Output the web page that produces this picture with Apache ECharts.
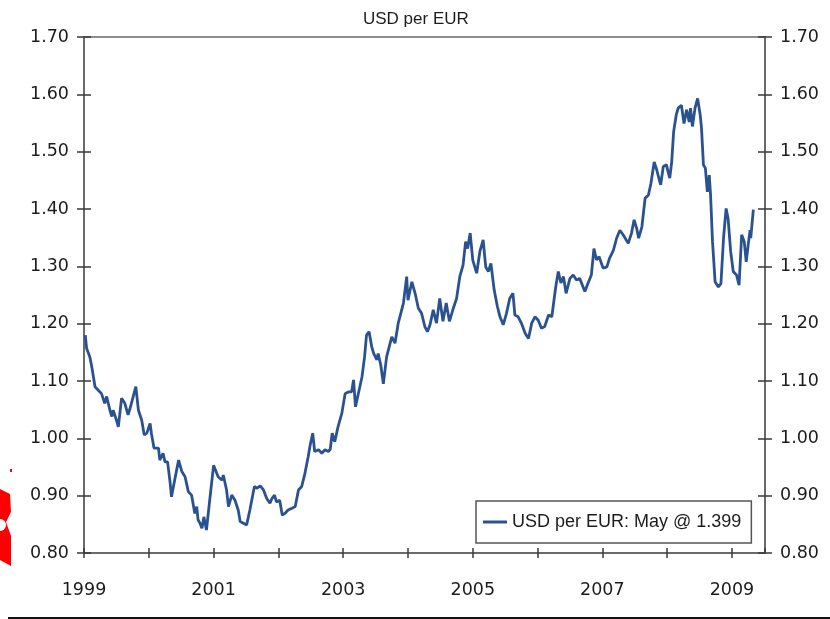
<!DOCTYPE html>
<html>
<head>
<meta charset="utf-8">
<script src="https://cdn.jsdelivr.net/npm/echarts@6/dist/echarts.min.js"></script>
<style>
html,body{margin:0;padding:0;background:#fff;}
#c{width:830px;height:619px;}
</style>
</head>
<body>
<div id="c"></div>
<script>
// ---- data (fractional year, USD per EUR) ----
const years = [
1999.02,1999.04,1999.09,1999.12,1999.17,1999.22,1999.27,1999.32,1999.35,1999.40,1999.43,1999.45,1999.50,1999.53,1999.58,1999.63,1999.68,1999.71,1999.76,1999.80,1999.84,1999.89,1999.93,1999.97,
2000.02,2000.04,2000.08,2000.15,2000.17,2000.22,2000.25,2000.29,2000.33,2000.35,2000.38,2000.43,2000.46,2000.51,2000.56,2000.61,2000.66,2000.71,2000.74,2000.76,2000.79,2000.82,2000.85,2000.89,2000.94,
2001.00,2001.02,2001.07,2001.13,2001.15,2001.20,2001.23,2001.28,2001.33,2001.38,2001.41,2001.46,2001.51,2001.56,2001.63,2001.67,2001.72,2001.77,2001.82,2001.87,2001.90,2001.94,2001.97,
2002.02,2002.06,2002.10,2002.15,2002.21,2002.26,2002.31,2002.36,2002.41,2002.46,2002.49,2002.53,2002.56,2002.62,2002.67,2002.72,2002.77,2002.80,2002.83,2002.87,2002.92,2002.98,
2003.03,2003.08,2003.13,2003.16,2003.19,2003.23,2003.29,2003.33,2003.36,2003.40,2003.44,2003.47,2003.52,2003.54,2003.58,2003.62,2003.67,2003.75,2003.80,2003.85,2003.93,2003.98,
2004.00,2004.06,2004.11,2004.16,2004.21,2004.26,2004.30,2004.34,2004.39,2004.44,2004.49,2004.54,2004.59,2004.64,2004.70,2004.75,2004.80,2004.85,2004.89,2004.92,2004.96,
2005.00,2005.06,2005.11,2005.16,2005.20,2005.24,2005.28,2005.33,2005.38,2005.42,2005.47,2005.52,2005.57,2005.62,2005.65,2005.70,2005.75,2005.81,2005.86,2005.91,2005.96,
2006.01,2006.06,2006.11,2006.17,2006.22,2006.28,2006.32,2006.36,2006.40,2006.44,2006.50,2006.55,2006.60,2006.65,2006.73,2006.78,2006.83,2006.87,2006.91,2006.95,
2007.01,2007.07,2007.11,2007.17,2007.22,2007.27,2007.32,2007.40,2007.45,2007.49,2007.53,2007.56,2007.61,2007.66,2007.71,2007.75,2007.80,2007.84,2007.86,2007.90,2007.94,2007.99,
2008.02,2008.04,2008.07,2008.10,2008.14,2008.17,2008.22,2008.26,2008.30,2008.34,2008.36,2008.39,2008.43,2008.47,2008.51,2008.53,2008.56,2008.59,2008.62,2008.65,2008.67,2008.70,2008.74,2008.79,2008.83,2008.87,2008.91,2008.94,2008.98,
2009.02,2009.07,2009.11,2009.15,2009.19,2009.22,2009.25,2009.28,2009.29,2009.33
];
const rates = [
1.180,1.157,1.142,1.125,1.090,1.084,1.078,1.061,1.073,1.049,1.038,1.049,1.032,1.020,1.070,1.061,1.041,1.052,1.073,1.090,1.049,1.032,1.006,1.009,
1.026,1.009,0.983,0.983,0.962,0.974,0.959,0.959,0.922,0.898,0.898,0.945,0.962,0.942,0.933,0.907,0.901,0.869,0.881,0.858,0.852,0.843,0.863,0.840,0.892,
0.953,0.956,0.933,0.927,0.936,0.910,0.881,0.901,0.892,0.875,0.855,0.852,0.849,0.875,0.916,0.913,0.917,0.910,0.895,0.887,0.895,0.901,0.889,
0.892,0.866,0.869,0.875,0.878,0.881,0.910,0.916,0.939,0.968,0.988,1.009,0.977,0.980,0.974,0.980,0.977,0.981,1.009,0.994,1.020,1.044,
1.078,1.081,1.081,1.102,1.055,1.076,1.107,1.142,1.180,1.186,1.160,1.148,1.137,1.148,1.128,1.095,1.142,1.177,1.166,1.201,1.236,1.282,
1.241,1.273,1.253,1.227,1.218,1.195,1.186,1.198,1.224,1.201,1.244,1.204,1.236,1.204,1.227,1.244,1.282,1.302,1.343,1.331,1.358,
1.311,1.288,1.326,1.346,1.299,1.291,1.305,1.259,1.230,1.212,1.198,1.218,1.244,1.253,1.215,1.212,1.201,1.183,1.174,1.201,1.212,
1.206,1.192,1.195,1.215,1.212,1.264,1.291,1.271,1.282,1.253,1.279,1.285,1.276,1.279,1.256,1.271,1.285,1.331,1.311,1.317,
1.297,1.299,1.314,1.328,1.349,1.363,1.355,1.340,1.358,1.381,1.366,1.349,1.369,1.419,1.424,1.445,1.482,1.468,1.459,1.442,1.474,1.477,
1.462,1.454,1.482,1.535,1.564,1.576,1.581,1.549,1.573,1.552,1.576,1.544,1.576,1.593,1.564,1.541,1.477,1.471,1.430,1.459,1.424,1.343,1.273,1.264,1.270,1.349,1.401,1.384,1.326,
1.291,1.285,1.267,1.355,1.343,1.308,1.337,1.363,1.349,1.399
];
const seriesName = 'USD per EUR: May @ 1.399';
const chartTitle = 'USD per EUR';
const yTicks = [0.80,0.90,1.00,1.10,1.20,1.30,1.40,1.50,1.60,1.70];
const xLabelYears = [1999,2001,2003,2005,2007,2009];

const chart = echarts.init(document.getElementById('c'), null, {renderer:'canvas'});
const lineData = years.map((y,i)=>[y, rates[i]]);
const numFont = 'DejaVu Sans';
const axisGray = '#6a6a6a';
const tickGray = '#3a3a3a';
const textColor = '#1c1c1c';

function yAxisBase(pos, inside, labels){
  return {
    type:'value', position:pos, min:yTicks[0], max:yTicks[yTicks.length-1], interval:0.1,
    axisLine:{show:!inside, lineStyle:{color:axisGray, width:2}},
    axisTick:{show:true, inside:inside, length:7, lineStyle:{color:tickGray, width:1.5}},
    axisLabel:{show:labels, margin:15, fontFamily:numFont, fontSize:17.5, color:textColor,
      formatter:v=>v.toFixed(2)},
    splitLine:{show:false}
  };
}
function xAxisBase(inside, labels){
  return {
    type:'value', position:'bottom', min:1999, max:2009.51, interval:1,
    axisLine:{show:!inside, onZero:false, lineStyle:{color:axisGray, width:2}},
    axisTick:{show:true, inside:inside, length:5, lineStyle:{color:tickGray, width:1.5}},
    axisLabel:{show:labels, margin:28, fontFamily:numFont, fontSize:17.5, color:textColor,
      showMaxLabel:false,
      formatter:v=>{ const r=Math.round(v); return (Math.abs(v-r)<1e-6 && xLabelYears.indexOf(r)>=0)? String(r):''; }},
    splitLine:{show:false}
  };
}

chart.setOption({
  animation:false,
  backgroundColor:'#fff',
  title:{text:chartTitle, left:363, top:11, padding:0,
    textStyle:{fontFamily:'Liberation Sans', fontSize:17, fontWeight:'normal', color:textColor}},
  grid:{left:84, right:65, top:37, bottom:66, show:true, borderColor:axisGray, borderWidth:1.5, backgroundColor:'transparent'},
  legend:{
    show:true, left:476, top:501, orient:'horizontal',
    padding:[12,10,12,7], itemWidth:24, itemHeight:3, itemGap:5,
    backgroundColor:'#fff', borderColor:'#555', borderWidth:1.5, borderRadius:0,
    icon:'rect',
    textStyle:{fontFamily:'Liberation Sans', fontSize:18, color:textColor, padding:[0,0,0,0]},
    data:[seriesName]
  },
  xAxis:[xAxisBase(false,true), xAxisBase(true,false)],
  yAxis:[yAxisBase('left',false,true), yAxisBase('left',true,false), yAxisBase('right',false,true), yAxisBase('right',true,false)],
  series:[{
    name:seriesName, type:'line', data:lineData, xAxisIndex:0, yAxisIndex:0,
    showSymbol:false, symbol:'none', smooth:false,
    lineStyle:{color:'#2b5290', width:2.8}, itemStyle:{color:'#2b5290'}
  }],
  graphic:[
    {type:'line', shape:{x1:8,y1:618,x2:830,y2:618}, style:{stroke:'#111', lineWidth:2}},
    {type:'polygon', shape:{points:[[0,489],[10,494],[11,512],[6,522],[11,536],[11,566],[0,560]]}, style:{fill:'#ff0000'}},
    {type:'circle', shape:{cx:0,cy:525,r:6}, style:{fill:'#fff'}},
    {type:'rect', shape:{x:10,y:469,width:2,height:3}, style:{fill:'#ff0000'}}
  ]
});
</script>
</body>
</html>
